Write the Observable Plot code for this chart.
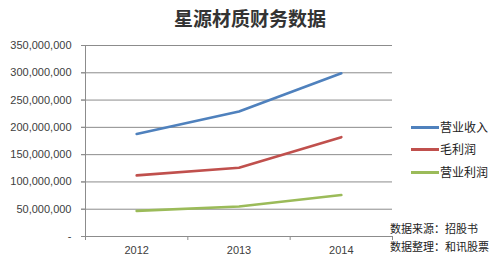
<!DOCTYPE html>
<html>
<head>
<meta charset="utf-8">
<script src="https://cdn.jsdelivr.net/npm/d3@7"></script>
<script src="https://cdn.jsdelivr.net/npm/@observablehq/plot@0.6"></script>
<style>
  html, body { margin: 0; padding: 0; background: #fff; }
  #wrap { position: relative; width: 500px; height: 264px; overflow: hidden; }
  #title { position: absolute; left: 0; width: 500px; top: 6px; text-align: center;
    font-family: "Noto Sans CJK SC", sans-serif; font-weight: bold; font-size: 19px; color: #333; line-height: 24px; }
  .leg { position: absolute; left: 411px; height: 16px; font-family: "Noto Sans CJK SC", sans-serif; font-size: 12px; color: #222; line-height: 16px; }
  .leg span.sw { position: absolute; left: 0; top: 7px; width: 28px; height: 3px; }
  .leg span.tx { position: absolute; left: 29px; top: 0; white-space: nowrap; }
  .src { position: absolute; left: 390px; font-family: "Noto Sans CJK SC", sans-serif; font-size: 11px; color: #222; line-height: 14px; white-space: nowrap; }
  svg { position: absolute; left: 0; top: 0; }
</style>
</head>
<body>
<div id="wrap"></div>
<script>
const title = "星源材质财务数据";
const years = [2012, 2013, 2014];
const seriesNames = ["营业收入", "毛利润", "营业利润"];
const seriesColors = ["#4F81BD", "#C0504D", "#9BBB59"];
const revenue = [188000000, 229000000, 299000000];
const grossProfit = [112000000, 126000000, 182000000];
const operatingProfit = [47000000, 55000000, 76000000];
const yTicks = [0, 50000000, 100000000, 150000000, 200000000, 250000000, 300000000, 350000000];
const sourceLines = ["数据来源：招股书", "数据整理：和讯股票"];

const allSeries = [revenue, grossProfit, operatingProfit];
const data = [];
allSeries.forEach((vals, i) => {
  vals.forEach((v, j) => data.push({series: seriesNames[i], year: years[j], value: v}));
});
const boundaries = [years[0] - 0.5, ...years.map(y => y + 0.5)];

const fmt = d3.format(",");
const chart = Plot.plot({
  width: 500,
  height: 264,
  marginTop: 45,
  marginBottom: 28,
  marginLeft: 85,
  marginRight: 108,
  style: {fontFamily: "'Liberation Sans', Arial, sans-serif", fontSize: "11px", color: "#404040", background: "transparent"},
  x: {domain: [boundaries[0], boundaries[boundaries.length - 1]]},
  y: {domain: [0, 350000000]},
  color: {domain: seriesNames, range: seriesColors},
  marks: [
    Plot.gridY(yTicks, {stroke: "#8c8c8c", strokeOpacity: 1, strokeWidth: 1, insetLeft: -4}),
    Plot.axisY({ticks: yTicks, tickSize: 4, tickPadding: 10, stroke: "#8c8c8c",
      tickFormat: d => d === 0 ? "-" : fmt(d), label: null, fill: "#404040"}),
    Plot.ruleX([boundaries[0]], {stroke: "#8c8c8c", strokeWidth: 1}),
    Plot.axisX({ticks: boundaries, tickSize: 4, tickFormat: () => "", stroke: "#8c8c8c", label: null}),
    Plot.axisX({ticks: years, tickSize: 0, tickPadding: 10, tickFormat: d => String(d), label: null, fill: "#404040"}),
    Plot.lineY(data, {x: "year", y: "value", stroke: "series", strokeWidth: 2.6})
  ]
});

const wrap = document.getElementById("wrap");
wrap.appendChild(chart);

const t = document.createElement("div");
t.id = "title"; t.textContent = title;
wrap.appendChild(t);

const legTops = [119, 141, 164];
seriesNames.forEach((name, i) => {
  const d = document.createElement("div");
  d.className = "leg";
  d.style.top = legTops[i] + "px";
  d.innerHTML = `<span class="sw" style="background:${seriesColors[i]}"></span><span class="tx">${name}</span>`;
  wrap.appendChild(d);
});
sourceLines.forEach((s, i) => {
  const d = document.createElement("div");
  d.className = "src";
  d.style.top = (221 + i * 18) + "px";
  d.textContent = s;
  wrap.appendChild(d);
});
</script>
</body>
</html>
